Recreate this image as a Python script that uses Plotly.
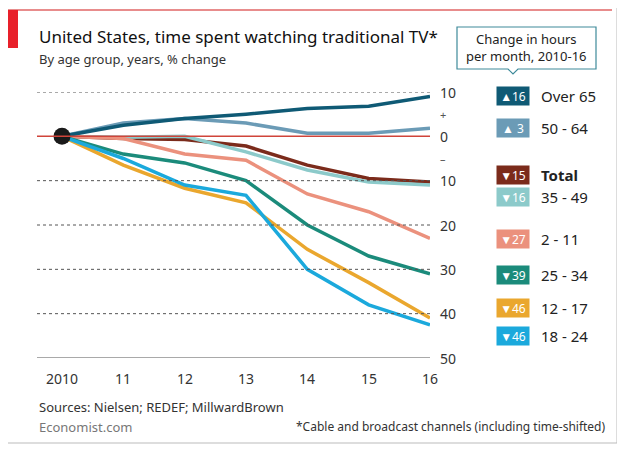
import plotly.graph_objects as go

years = [2010, 2011, 2012, 2013, 2014, 2015, 2016]
groups = ["Over 65", "50 - 64", "Total", "35 - 49", "2 - 11", "25 - 34", "12 - 17", "18 - 24"]
values = {
    "Over 65": [0, 2.5, 4, 5, 6.3, 6.8, 9],
    "50 - 64": [0, 3, 4, 3, 0.7, 0.7, 1.8],
    "Total": [0, -0.5, -0.7, -2.2, -6.5, -9.5, -10.3],
    "35 - 49": [0, -0.2, 0, -3.5, -7.6, -10.3, -11],
    "2 - 11": [0, -0.5, -4, -5.4, -13, -17, -23],
    "25 - 34": [0, -4, -6, -10, -20, -27, -31],
    "12 - 17": [0, -6.5, -11.7, -15, -25.5, -33, -41],
    "18 - 24": [0, -5, -11, -13.3, -30, -38, -42.5],
}
hours = ["▲16", "▲ 3", "▼15", "▼16", "▼27", "▼39", "▼46", "▼46"]
colors = ["#0f5a75", "#6b9bb6", "#7b2b1b", "#8ccaca", "#eb917d", "#1b8b7b", "#eaa72e", "#1ba9dc"]
legend_y = [96, 128, 175, 197, 239, 275, 308, 336]
y_ticks = [10, 0, -10, -20, -30, -40, -50]
x_labels = ["2010", "11", "12", "13", "14", "15", "16"]

OFF = 8  # browser body margin
W, H = 625 - 2 * OFF, 454 - 2 * OFF
L, R, T, B = 37 - OFF, 430 - OFF, 92 - OFF, 358 - OFF


def px(x):
    return (x - OFF - L) / (R - L)


def py(y):
    return (B - (y - OFF)) / (B - T)


fig = go.Figure()
for y in y_ticks:
    if y in (0, -50):
        continue
    fig.add_shape(type="line", xref="paper", yref="y", x0=0, x1=1, y0=y, y1=y,
                  line=dict(color="#555", width=1, dash="dot"))
fig.add_shape(type="line", xref="paper", yref="y", x0=0, x1=1, y0=0, y1=0,
              line=dict(color="#d0443a", width=1.5))
fig.add_shape(type="line", xref="paper", yref="y", x0=0, x1=1, y0=-50, y1=-50,
              line=dict(color="#555", width=1.2))

order = [2, 3, 4, 5, 6, 7, 1, 0]
for i in order:
    g = groups[i]
    fig.add_trace(go.Scatter(x=years, y=values[g], mode="lines", name=g,
                             line=dict(color=colors[i], width=3.5), showlegend=False))
fig.add_trace(go.Scatter(x=[2010], y=[0], mode="markers", showlegend=False,
                         marker=dict(color="#1a1a1a", size=17)))

font = "Noto Sans"
ann = []


def text(x, y, s, size, color="#333", xanchor="left", xref="paper", yref="paper", **kw):
    ann.append(dict(xref=xref, yref=yref, x=x, y=y, text=s, showarrow=False,
                    xanchor=xanchor, yanchor="middle",
                    font=dict(size=size, color=color, family=font), **kw))


for y in y_ticks:
    text(px(438), y, str(abs(y)), 14, yref="y")
text(px(443), 5, "+", 11, "#555", xanchor="center", yref="y")
text(px(443), -5, "–", 11, "#555", xanchor="center", yref="y")
for xv, lab in zip(years, x_labels):
    text(xv, py(378), lab, 14, xanchor="center", xref="x")

for i, g in enumerate(groups):
    text(px(513), py(legend_y[i]), hours[i], 12, "white", xanchor="center",
         bgcolor=colors[i], width=32, height=18, borderpad=0)
    text(px(539), py(legend_y[i]), "<b>Total</b>" if g == "Total" else g, 15, "#222")

text(px(526), py(48), "Change in hours<br>per month, 2010-16", 13, "#222", xanchor="center")
text(px(37), py(37), "United States, time spent watching traditional TV*", 17, "#111")
text(px(37), py(59), "By age group, years, % change", 13)
text(px(37), py(407), "Sources: Nielsen; REDEF; MillwardBrown", 13)
text(px(37), py(427), "Economist.com", 13, "#777")
text(px(607), py(426), "*Cable and broadcast channels (including time-shifted)", 12, xanchor="right")

shapes = [
    dict(type="rect", xref="paper", yref="paper", x0=px(3), x1=px(617), y0=py(443), y1=py(3),
         line=dict(color="#bbb", width=1), fillcolor="rgba(0,0,0,0)", layer="below"),
    dict(type="line", xref="paper", yref="paper", x0=px(7), x1=px(612), y0=py(10), y1=py(10),
         line=dict(color="#e06666", width=1.5)),
    dict(type="rect", xref="paper", yref="paper", x0=px(7), x1=px(18), y0=py(48), y1=py(10),
         line=dict(width=0), fillcolor="#e8202a"),
    dict(type="path", xref="paper", yref="paper", layer="below",
         path="M {a},{b} L {c},{b} L {c},{d} L {e},{d} L {f},{g} L {h},{d} L {a},{d} Z".format(
             a=px(457), b=py(27), c=px(596), d=py(69), e=px(518), f=px(513), g=py(74), h=px(508)),
         line=dict(color="#3e8a9a", width=1.2), fillcolor="white"),
]
for s in shapes:
    fig.add_shape(**s)

fig.update_layout(
    width=W, height=H, paper_bgcolor="white", plot_bgcolor="white",
    margin=dict(l=L, r=W - R, t=T, b=H - B),
    xaxis=dict(range=[2010 - 25 / 368 * 6, 2016], visible=False),
    yaxis=dict(range=[-50, 10], visible=False),
    annotations=ann,
)
fig.write_html("out.html")
